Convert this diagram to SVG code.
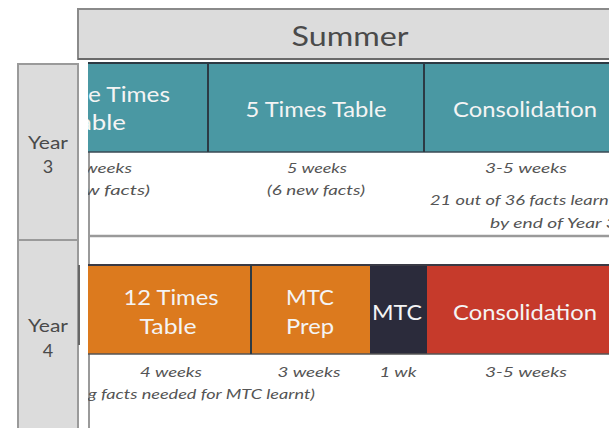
<svg xmlns="http://www.w3.org/2000/svg" width="609" height="428" viewBox="0 0 609 428">
<defs>
<style>
.hdr{fill:#dcdcdc;stroke:#8a8a8a;stroke-width:2}
.yr{fill:#dcdcdc;stroke:#9a9a9a;stroke-width:2}
.yt{font-family:Lato,"Open Sans",sans-serif;font-size:18px;fill:#4a4a4a;text-anchor:middle}
.bt{font-family:Lato,"Open Sans",sans-serif;font-size:21px;fill:#f4f4f4;text-anchor:middle}
.bl{font-family:Lato,"Open Sans",sans-serif;font-size:21px;fill:#f4f4f4}
.nt{font-family:Lato,"Open Sans",sans-serif;font-size:14px;font-style:italic;fill:#555;text-anchor:middle}
.ntl{font-family:Lato,"Open Sans",sans-serif;font-size:14px;font-style:italic;fill:#555}
.teal{fill:#4a98a3}
.div{stroke:#2c3a44;stroke-width:2}
</style>
<clipPath id="clipL"><rect x="88" y="0" width="521" height="428"/></clipPath>
</defs>
<rect width="609" height="428" fill="#ffffff"/>

<g id="summer-header">
<rect class="hdr" x="78" y="9" width="540" height="50"/>
<line x1="78" y1="59" x2="609" y2="59" stroke="#6a6a6a" stroke-width="2"/>
<text x="350" y="46" font-family="Lato,'Open Sans',sans-serif" font-size="26" fill="#4a4a4a" text-anchor="middle" textLength="117" lengthAdjust="spacingAndGlyphs">Summer</text>
</g>

<g id="year3">
<rect class="yr" x="18" y="64" width="60" height="176"/>
<text class="yt" x="48" y="149" textLength="40" lengthAdjust="spacingAndGlyphs">Year</text>
<text class="yt" x="48" y="173">3</text>
</g>
<g id="year4">
<rect class="yr" x="18" y="240" width="60" height="200"/>
<line x1="79" y1="265" x2="79" y2="345" stroke="#666" stroke-width="2"/>
<text class="yt" x="48" y="332" textLength="40" lengthAdjust="spacingAndGlyphs">Year</text>
<text class="yt" x="48" y="357">4</text>
</g>

<g id="connectors">
<line x1="89" y1="152" x2="89" y2="428" stroke="#9a9a9a" stroke-width="2"/>
<line x1="89" y1="236" x2="609" y2="236" stroke="#9a9a9a" stroke-width="2.5"/>
</g>

<g id="y3-times" clip-path="url(#clipL)">
<rect class="teal" x="88" y="63" width="120" height="89"/>
<text class="bl" x="88" y="102" textLength="82" lengthAdjust="spacingAndGlyphs">e Times</text>
<text class="bl" x="79" y="130" textLength="47" lengthAdjust="spacingAndGlyphs">able</text>
</g>
<g id="y3-5times">
<rect class="teal" x="208" y="63" width="216" height="89"/>
<text class="bt" x="316" y="117" textLength="141" lengthAdjust="spacingAndGlyphs">5 Times Table</text>
</g>
<g id="y3-consolidation">
<rect class="teal" x="424" y="63" width="190" height="89"/>
<text class="bt" x="525" y="117" textLength="144" lengthAdjust="spacingAndGlyphs">Consolidation</text>
</g>
<g id="y3-borders">
<line x1="88" y1="63" x2="609" y2="63" stroke="#2c3a44" stroke-width="2"/>
<line x1="88" y1="152" x2="609" y2="152" stroke="#3a4a54" stroke-width="1.5"/>
<line class="div" x1="208" y1="63" x2="208" y2="152"/>
<line class="div" x1="424" y1="63" x2="424" y2="152"/>
</g>

<g id="y3-notes" clip-path="url(#clipL)">
<text class="ntl" x="84" y="173" textLength="48" lengthAdjust="spacingAndGlyphs">weeks</text>
<text class="ntl" x="85" y="195" textLength="65" lengthAdjust="spacingAndGlyphs">w facts)</text>
<text class="nt" x="317" y="173" textLength="60" lengthAdjust="spacingAndGlyphs">5 weeks</text>
<text class="nt" x="316" y="195" textLength="98" lengthAdjust="spacingAndGlyphs">(6 new facts)</text>
<text class="nt" x="526" y="173" textLength="82" lengthAdjust="spacingAndGlyphs">3-5 weeks</text>
<text class="ntl" x="430" y="205" textLength="185" lengthAdjust="spacingAndGlyphs">21 out of 36 facts learnt</text>
<text class="ntl" x="490" y="228" textLength="127" lengthAdjust="spacingAndGlyphs">by end of Year 3</text>
</g>

<g id="y4-12times">
<rect x="88" y="265" width="163" height="89" fill="#dc7a1e"/>
<text class="bt" x="171" y="305" textLength="95" lengthAdjust="spacingAndGlyphs">12 Times</text>
<text class="bt" x="168" y="334" textLength="57" lengthAdjust="spacingAndGlyphs">Table</text>
</g>
<g id="y4-mtcprep">
<rect x="251" y="265" width="119" height="89" fill="#dc7a1e"/>
<text class="bt" x="310" y="305" textLength="48" lengthAdjust="spacingAndGlyphs">MTC</text>
<text class="bt" x="310" y="334" textLength="48" lengthAdjust="spacingAndGlyphs">Prep</text>
</g>
<g id="y4-mtc">
<rect x="370" y="265" width="57" height="89" fill="#2b2b3b"/>
<text class="bt" x="397" y="320" textLength="50" lengthAdjust="spacingAndGlyphs">MTC</text>
</g>
<g id="y4-consolidation">
<rect x="427" y="265" width="190" height="89" fill="#c63a2b"/>
<text class="bt" x="525" y="320" textLength="144" lengthAdjust="spacingAndGlyphs">Consolidation</text>
</g>
<g id="y4-borders">
<line x1="88" y1="265" x2="609" y2="265" stroke="#3a3a44" stroke-width="2"/>
<line x1="88" y1="354" x2="609" y2="354" stroke="#555" stroke-width="1.5"/>
<line class="div" x1="251" y1="265" x2="251" y2="354"/>
</g>

<g id="y4-notes" clip-path="url(#clipL)">
<text class="nt" x="171" y="377" textLength="62" lengthAdjust="spacingAndGlyphs">4 weeks</text>
<text class="nt" x="309" y="377" textLength="63" lengthAdjust="spacingAndGlyphs">3 weeks</text>
<text class="nt" x="398" y="377" textLength="37" lengthAdjust="spacingAndGlyphs">1 wk</text>
<text class="nt" x="526" y="377" textLength="82" lengthAdjust="spacingAndGlyphs">3-5 weeks</text>
<text class="ntl" x="88" y="399" textLength="227" lengthAdjust="spacingAndGlyphs">g facts needed for MTC learnt)</text>
</g>
</svg>
